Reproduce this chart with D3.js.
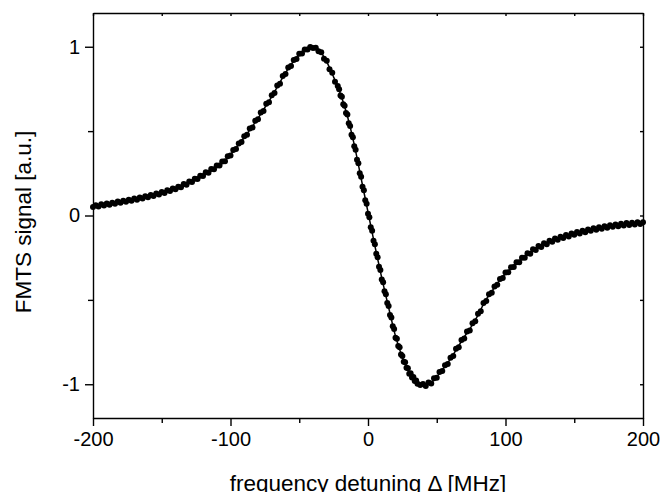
<!DOCTYPE html>
<html lang="en">
<head>
    <meta charset="UTF-8">
    <title>FMTS signal vs frequency detuning</title>
    <script src="https://d3js.org/d3.v7.min.js"></script>
    <style>
        body { margin: 0; background: #fff; }
        svg { display: block; font-family: "Liberation Sans", Arial, sans-serif; }
        .axis path, .axis line { stroke: #000; stroke-width: 1.4; }
        .axis text { font-size: 20px; fill: #000; }
        .title { font-size: 22.5px; fill: #000; }
        .fit { fill: none; stroke: #000; stroke-width: 1.5; }
        .dot { fill: #000; }
    </style>
</head>
<body>

<div id="chart"></div>

<script>
    // tick values
    const xMajor = [-200, -100, 0, 100, 200];
    const xMinor = [-150, -50, 50, 150];
    const yMajor = [-1, 0, 1];
    const yMinor = [-0.5, 0.5];

    // fitted curve (MHz, signal)
    const fitFreq = [-200, -195, -190, -185, -180, -175, -170, -165, -160, -155, -150, -145, -140, -135, -130, -125, -120, -115, -110, -105,
        -100, -95, -90, -85, -80, -75, -70, -65, -60, -55, -50, -45, -40, -35, -30, -25, -20, -15, -10, -5,
        0, 5, 10, 15, 20, 25, 30, 35, 40, 45, 50, 55, 60, 65, 70, 75, 80, 85, 90, 95,
        100, 105, 110, 115, 120, 125, 130, 135, 140, 145, 150, 155, 160, 165, 170, 175, 180, 185, 190, 195, 200];
    const fitSignal = [0.055, 0.060, 0.065, 0.072, 0.080, 0.087, 0.095, 0.103, 0.112, 0.122, 0.134, 0.146, 0.160, 0.176, 0.195, 0.216, 0.240, 0.264, 0.290, 0.320,
        0.362, 0.410, 0.462, 0.518, 0.576, 0.640, 0.705, 0.775, 0.845, 0.905, 0.952, 0.985, 0.998, 0.975, 0.910, 0.820, 0.720, 0.590, 0.420, 0.220,
        0.020, -0.180, -0.370, -0.545, -0.715, -0.840, -0.930, -0.985, -1.005, -0.995, -0.955, -0.905, -0.850, -0.785, -0.720, -0.660, -0.590, -0.510, -0.450, -0.392,
        -0.345, -0.305, -0.270, -0.237, -0.207, -0.183, -0.163, -0.146, -0.132, -0.120, -0.108, -0.098, -0.089, -0.080, -0.072, -0.065, -0.059, -0.054, -0.050, -0.047, -0.044];

    // measured points (MHz, signal)
    const dotFreq = [-200, -198, -196, -194, -192, -190, -188, -186, -184, -182, -180, -178, -176, -174, -172, -170, -168, -166, -164, -162,
        -160, -158, -156, -154, -152, -150, -148, -146, -144, -142, -140, -138, -136, -134, -132, -130, -128, -126, -124, -122,
        -120, -118, -116, -114, -112, -110, -108, -106, -104, -102, -100, -98, -96, -94, -92, -90, -88, -86, -84, -82,
        -80, -78, -76, -74, -72, -70, -68, -66, -64, -62, -60, -58, -56, -54, -52, -50, -48, -46, -44, -42,
        -40, -38, -36, -34, -32, -30, -28, -26, -24, -22,
        -21, -20, -19, -18, -17, -16, -15, -14, -13, -12, -11, -10, -9, -8, -7, -6, -5, -4, -3, -2, -1,
        0, 1, 2, 3, 4, 5, 6, 7, 8, 9, 10, 11, 12, 13, 14, 15, 16, 17, 18, 19, 20,
        21, 22, 23, 24, 25, 26, 27, 28, 29, 30, 31, 32, 33, 34, 35, 36,
        38, 40, 42, 44, 46, 48, 50, 52, 54, 56, 58, 60, 62, 64, 66, 68, 70, 72, 74, 76, 78,
        80, 82, 84, 86, 88, 90, 92, 94, 96, 98, 100, 102, 104, 106, 108, 110, 112, 114, 116, 118,
        120, 122, 124, 126, 128, 130, 132, 134, 136, 138, 140, 142, 144, 146, 148, 150, 152, 154, 156, 158,
        160, 162, 164, 166, 168, 170, 172, 174, 176, 178, 180, 182, 184, 186, 188, 190, 192, 194, 196, 198, 200];
    const dotSignal = [0.050, 0.061, 0.054, 0.066, 0.060, 0.071, 0.064, 0.075, 0.070, 0.083, 0.076, 0.088, 0.081, 0.094, 0.087, 0.101, 0.093, 0.106, 0.101, 0.114,
        0.108, 0.121, 0.116, 0.130, 0.125, 0.139, 0.133, 0.150, 0.145, 0.160, 0.155, 0.171, 0.168, 0.186, 0.182, 0.201, 0.198, 0.218, 0.216, 0.236,
        0.234, 0.256, 0.254, 0.276, 0.274, 0.297, 0.296, 0.320, 0.322, 0.351, 0.356, 0.388, 0.394, 0.427, 0.436, 0.470, 0.478, 0.515, 0.522, 0.562,
        0.570, 0.610, 0.620, 0.662, 0.671, 0.713, 0.726, 0.770, 0.781, 0.826, 0.838, 0.877, 0.886, 0.921, 0.927, 0.958, 0.960, 0.984, 0.983, 0.998,
        0.992, 0.994, 0.973, 0.968, 0.929, 0.917, 0.866, 0.846, 0.792, 0.768,
        0.748, 0.711, 0.703, 0.660, 0.651, 0.608, 0.598, 0.547, 0.531, 0.479, 0.463, 0.411, 0.390, 0.331, 0.309, 0.251, 0.229, 0.171, 0.149, 0.091, 0.069,
        0.011, -0.011, -0.069, -0.091, -0.149, -0.171, -0.227, -0.247, -0.303, -0.323, -0.379, -0.396, -0.449, -0.466, -0.519, -0.536, -0.589, -0.604, -0.657, -0.672, -0.724,
        -0.731, -0.774, -0.781, -0.824, -0.832, -0.866, -0.869, -0.902, -0.905, -0.938, -0.935, -0.960, -0.957, -0.981, -0.978, -0.997,
        -1.005, -0.998, -1.010, -0.990, -0.995, -0.964, -0.962, -0.928, -0.922, -0.887, -0.880, -0.843, -0.832, -0.790, -0.781, -0.738, -0.729, -0.688, -0.681, -0.638, -0.627,
        -0.582, -0.567, -0.518, -0.507, -0.466, -0.458, -0.420, -0.411, -0.376, -0.371, -0.338, -0.336, -0.306, -0.305, -0.277, -0.277, -0.250, -0.251, -0.224, -0.226,
        -0.200, -0.204, -0.181, -0.186, -0.164, -0.170, -0.150, -0.155, -0.137, -0.144, -0.126, -0.133, -0.116, -0.124, -0.107, -0.114, -0.098, -0.106, -0.090, -0.099,
        -0.083, -0.091, -0.076, -0.084, -0.069, -0.078, -0.063, -0.072, -0.058, -0.067, -0.053, -0.063, -0.049, -0.059, -0.045, -0.056, -0.043, -0.054, -0.040, -0.051, -0.040];

    const width = 661;
    const height = 492;
    const margin = { top: 13, right: 18, bottom: 74, left: 93 };
    const w = width - margin.left - margin.right;
    const h = height - margin.top - margin.bottom;

    // plain hyphen for negatives, like the original
    const fmt = d => String(d);

    const svg = d3.select("#chart")
        .append("svg")
        .attr("width", width)
        .attr("height", height);

    const g = svg.append("g")
        .attr("transform", "translate(" + margin.left + "," + margin.top + ")");

    const x = d3.scaleLinear().domain([-200, 200]).range([0, w]);
    const y = d3.scaleLinear().domain([-1.2, 1.2]).range([h, 0]);

    // bottom axis: labelled majors, shorter minors
    g.append("g")
        .attr("class", "axis")
        .attr("transform", "translate(0," + h + ")")
        .call(d3.axisBottom(x).tickValues(xMajor).tickFormat(fmt).tickSize(8).tickSizeOuter(0).tickPadding(6));
    g.append("g")
        .attr("class", "axis")
        .attr("transform", "translate(0," + h + ")")
        .call(d3.axisBottom(x).tickValues(xMinor).tickFormat("").tickSize(5).tickSizeOuter(0))
        .select(".domain").remove();

    // left axis
    g.append("g")
        .attr("class", "axis")
        .call(d3.axisLeft(y).tickValues(yMajor).tickFormat(fmt).tickSize(8).tickSizeOuter(0).tickPadding(5));
    g.append("g")
        .attr("class", "axis")
        .call(d3.axisLeft(y).tickValues(yMinor).tickFormat("").tickSize(5).tickSizeOuter(0))
        .select(".domain").remove();

    // top and right: small inward ticks
    g.append("g")
        .attr("class", "axis")
        .call(d3.axisTop(x).tickValues(xMajor.concat(xMinor)).tickFormat("").tickSize(-3).tickSizeOuter(0));
    g.append("g")
        .attr("class", "axis")
        .attr("transform", "translate(" + w + ",0)")
        .call(d3.axisRight(y).tickValues(yMajor.concat(yMinor)).tickFormat("").tickSize(-3).tickSizeOuter(0));

    // measured points
    g.selectAll(".dot")
        .data(dotFreq.map((f, i) => ({ f: f, s: dotSignal[i] })))
        .enter().append("circle")
        .attr("class", "dot")
        .attr("cx", d => x(d.f))
        .attr("cy", d => y(d.s))
        .attr("r", 3);

    // fit curve
    const line = d3.line()
        .x(d => x(d.f))
        .y(d => y(d.s))
        .curve(d3.curveMonotoneX);

    g.append("path")
        .datum(fitFreq.map((f, i) => ({ f: f, s: fitSignal[i] })))
        .attr("class", "fit")
        .attr("d", line);

    // axis titles
    svg.append("text")
        .attr("class", "title")
        .attr("x", margin.left + w / 2)
        .attr("y", 491)
        .attr("text-anchor", "middle")
        .text("frequency detuning \u0394 [MHz]");

    svg.append("text")
        .attr("class", "title")
        .attr("transform", "translate(31," + 222 + ") rotate(-90)")
        .attr("text-anchor", "middle")
        .text("FMTS signal [a.u.]");
</script>

</body>
</html>
